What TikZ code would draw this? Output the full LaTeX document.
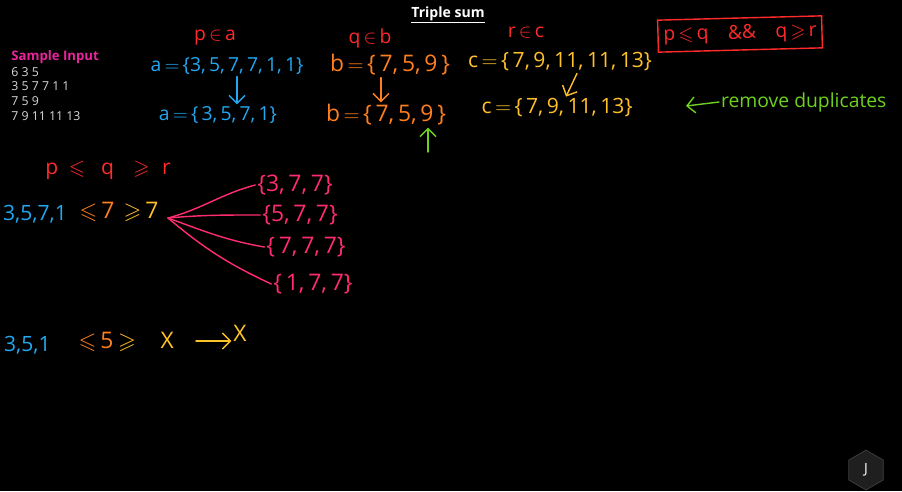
\documentclass[tikz,border=0pt]{standalone}
\usepackage{amsmath}
\usepackage{amssymb}
\usepackage{fontspec}
\setmainfont{Open Sans}
\usepackage{tikz}
\usetikzlibrary{arrows.meta,positioning,shapes.geometric}
\definecolor{inkblue}{HTML}{22A7F0}
\definecolor{inkorange}{HTML}{FF7F1E}
\definecolor{inkyellow}{HTML}{FFC12A}
\definecolor{inkred}{HTML}{FF2A2A}
\definecolor{inkpink}{HTML}{FF2D6E}
\definecolor{inkgreen}{HTML}{6DD21E}
\definecolor{inkmagenta}{HTML}{E8259A}

\begin{document}
\begin{tikzpicture}[x=0.02cm, y=-0.02cm,
  hand/.style={font=\fontsize{12}{14}\selectfont, inner sep=1pt},
  small/.style={font=\fontsize{11}{13}\selectfont, inner sep=1pt},
  arr/.style={-{Straight Barb[length=1.6mm]}, thick, line cap=round},
  fanline/.style={draw=inkpink, thick, line cap=round}
]
  \fill[black] (0,0) rectangle (902,491);
  \useasboundingbox (0,0) rectangle (902,491);

  % title and input
  \node[white, font=\bfseries\fontsize{8}{10}\selectfont] (title) at (448,15) {\underline{Triple sum}};
  \node[inkmagenta, font=\bfseries\fontsize{7.5}{9}\selectfont, anchor=west, inner sep=0pt] (inhead) at (11,57) {Sample Input};
  \node[black!15, font=\fontsize{7}{8.3}\selectfont, anchor=north west, align=left, inner sep=0pt] (indata) at (11,67)
    {6 3 5\\3 5 7 7 1 1\\7 5 9\\7 9 11 11 13};

  % sets
  \node[small, inkred] (pa) at (215,38) {p$\,\in\,$a};
  \node[small, inkred] (qb) at (370,38) {q$\,\in\,$b};
  \node[small, inkred] (rc) at (526,33) {r$\,\in\,$c};

  \node[hand, inkblue, font=\fontsize{11}{13}\selectfont] (a1) at (227,66)  {a$\,=\,$\{3,\,5,\,7,\,7,\,1,\,1\}};
  \node[hand, inkblue, font=\fontsize{11}{13}\selectfont] (a2) at (218,115) {a$\,=\,$\{\,3,\,5,\,7,\,1\}};
  \node[hand, inkorange, font=\fontsize{13}{15}\selectfont] (b1) at (390,65)  {b$\,=\,$\{\,7,\,5,\,9\,\}};
  \node[hand, inkorange, font=\fontsize{13}{15}\selectfont] (b2) at (386,115) {b$\,=\,$\{\,7,\,5,\,9\,\}};
  \node[hand, inkyellow] (c1) at (560,62)  {c$\,=\,$\{\,7,\,9,\,11,\,11,\,13\}};
  \node[hand, inkyellow] (c2) at (557,108) {c$\,=\,$\{\,7,\,9,\,11,\,13\}};

  \coordinate (adown) at (237,0);
  \coordinate (bdown) at (381,0);
  \coordinate (ctop) at (577,0);
  \coordinate (cbot) at (566,0);
  \draw[arr, inkblue]   (a1.south -| adown) -- (a2.north -| adown);
  \draw[arr, inkorange] (b1.south -| bdown) -- (b2.north -| bdown);
  \draw[arr, inkyellow] (c1.south -| ctop) -- (c2.north -| cbot);
  \coordinate (gtail) at (428,152);
  \draw[arr, inkgreen] (gtail) -- (b2.south -| gtail);

  \node[small, inkred, draw=inkred, thick, minimum width=164*0.02cm, minimum height=32*0.02cm,
    rotate=1.5] (cond) at (740,34) {p$\,\leqslant\,$q\quad \&\&\quad q$\,\geqslant\,$r};

  \node[hand, inkgreen, font=\fontsize{11}{13}\selectfont, anchor=west] (dup) at (719,102) {remove duplicates};
  \coordinate (duptip) at (686,106);
  \draw[arr, inkgreen] (dup.west) -- (duptip);

  % p <= q >= r
  \node[small, inkred, font=\fontsize{12}{14}\selectfont] (rule) at (108,170)
    {p\hspace{6pt}$\leqslant$\hspace{9pt}q\hspace{11pt}$\geqslant$\hspace{7pt}r};

  \node[hand, inkblue, anchor=west] (lst1) at (1,214) {3,5,7,1};
  \node[hand, inkorange, font=\fontsize{13}{15}\selectfont] (le1) at (97,212) {$\leqslant$\,7};
  \node[hand, inkyellow, font=\fontsize{13}{15}\selectfont] (ge1) at (141,212) {$\geqslant$\,7};

  \coordinate (fan) at (168,218);
  \node[hand, inkpink, font=\fontsize{13}{15}\selectfont] (s1) at (295,185) {\{3,\,7,\,7\}};
  \node[hand, inkpink, font=\fontsize{13}{15}\selectfont] (s2) at (300,215) {\{5,\,7,\,7\}};
  \node[hand, inkpink, font=\fontsize{13}{15}\selectfont] (s3) at (306,247) {\{\,7,\,7,\,7\}};
  \node[hand, inkpink, font=\fontsize{13}{15}\selectfont] (s4) at (313,284) {\{\,1,\,7,\,7\}};
  \draw[fanline] (fan) to[out=15, in=195] (s1.west);
  \draw[fanline] (fan) to[out=5, in=180] (s2.west);
  \draw[fanline] (fan) to[out=-20, in=170] (s3.west);
  \draw[fanline] (fan) to[out=-40, in=155] (s4.west);

  \node[hand, inkblue, anchor=west] (lst2) at (2,345) {3,5,1};
  \node[hand, inkorange, font=\fontsize{13}{15}\selectfont] (le2) at (96,342) {$\leqslant$\,5};
  \node[hand, inkyellow, font=\fontsize{13}{15}\selectfont] (ge2) at (146,342) {$\geqslant$\hspace{14pt}X};
  \node[hand, inkyellow, font=\fontsize{13}{15}\selectfont] (none) at (240,333) {X};
  \coordinate (nt) at (196,341);
  \draw[arr, inkyellow] (nt) -- (none.west |- nt);

  % logo
  \node[regular polygon, regular polygon sides=6, shape border rotate=30, fill=black!88, draw=black!75,
    minimum size=34*0.02cm, text=white, font=\fontsize{8}{9}\selectfont] (logo) at (866,470) {J};
\end{tikzpicture}
\end{document}
